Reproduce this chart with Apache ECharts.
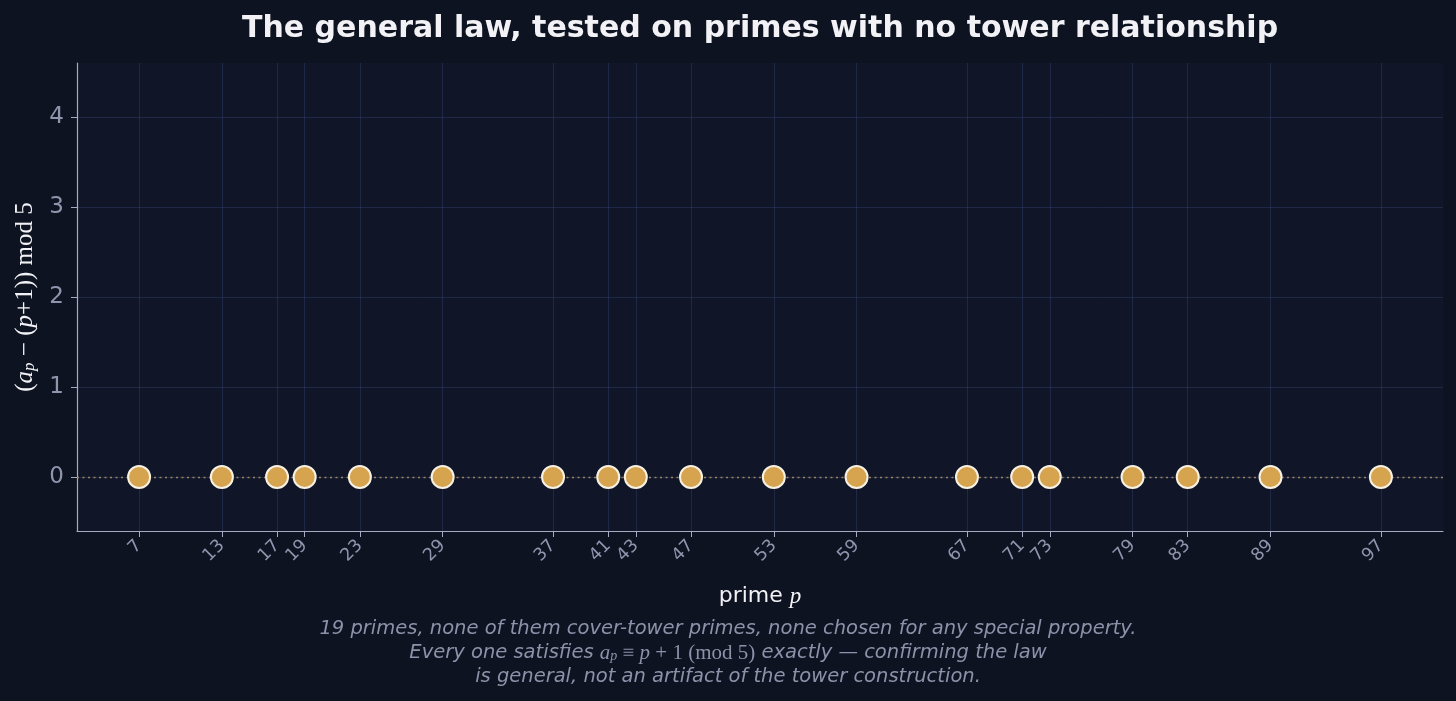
<!DOCTYPE html>
<html>
<head>
<meta charset="utf-8">
<script src="https://cdn.jsdelivr.net/npm/echarts@6/dist/echarts.min.js"></script>
<style>
  html, body { margin: 0; padding: 0; background: #0e1321; }
  #chart { width: 1456px; height: 701px; }
</style>
</head>
<body>
<div id="chart"></div>
<script>
// primes tested, and the residue (a_p - (p+1)) mod 5 for each
const primes = [7, 13, 17, 19, 23, 29, 37, 41, 43, 47, 53, 59, 67, 71, 73, 79, 83, 89, 97];
const residues = [0, 0, 0, 0, 0, 0, 0, 0, 0, 0, 0, 0, 0, 0, 0, 0, 0, 0, 0];
const yTicks = [0, 1, 2, 3, 4];

const chart = echarts.init(document.getElementById('chart'));

const points = primes.map((p, i) => [p, residues[i]]);
const mathFont = '"Liberation Serif", "DejaVu Serif", serif';

const option = {
    backgroundColor: '#0e1321',
    title: {
        text: 'The general law, tested on primes with no tower relationship',
        left: 237,
        top: 9,
        textStyle: {
            color: '#f2f2f6',
            fontFamily: '"DejaVu Sans"',
            fontWeight: 'bold',
            fontSize: 30
        }
    },
    grid: {
        left: 77,
        right: 13,
        top: 63,
        bottom: 170,
        containLabel: false,
        outerBoundsMode: 'none',
        show: true,
        backgroundColor: '#101627',
        borderWidth: 0
    },
    xAxis: {
        type: 'value',
        min: 2.5,
        max: 101.5,
        name: '{n|prime }{it|p}',
        nameLocation: 'middle',
        nameGap: 54,
        nameTextStyle: {
            rich: {
                n: { color: '#f2f2f6', fontSize: 22, fontFamily: '"DejaVu Sans"' },
                it: { color: '#f2f2f6', fontSize: 23, fontStyle: 'italic', fontFamily: mathFont }
            }
        },
        axisLine: { show: true, onZero: false, lineStyle: { color: '#a7abc2', width: 1.2 } },
        axisTick: { show: true, customValues: primes, length: 6, lineStyle: { color: '#a7abc2' } },
        axisLabel: {
            customValues: primes,
            rotate: 45,
            color: '#8f95ad',
            fontSize: 17.5,
            fontFamily: '"DejaVu Sans"',
            margin: 12
        },
        splitLine: { show: true, lineStyle: { color: 'rgba(70, 82, 150, 0.3)', width: 1 } }
    },
    yAxis: {
        type: 'value',
        min: -0.6,
        max: 4.6,
        name: '{n|(}{it|a}{sub|p}{n| − (}{it|p}{n|+1)) mod 5}',
        nameLocation: 'middle',
        nameRotate: 90,
        nameGap: 38,
        nameTextStyle: {
            rich: {
                n: { color: '#f2f2f6', fontSize: 25, fontFamily: mathFont },
                it: { color: '#f2f2f6', fontSize: 25, fontStyle: 'italic', fontFamily: mathFont },
                sub: { color: '#f2f2f6', fontSize: 17, fontStyle: 'italic', fontFamily: mathFont, padding: [9, 0, 0, 0] }
            }
        },
        axisLine: { show: true, onZero: false, lineStyle: { color: '#a7abc2', width: 1.2 } },
        axisTick: { show: true, customValues: yTicks, length: 6, lineStyle: { color: '#a7abc2' } },
        axisLabel: {
            customValues: yTicks,
            color: '#8f95ad',
            fontSize: 23,
            fontFamily: '"DejaVu Sans"',
            margin: 13
        },
        splitLine: { show: true, lineStyle: { color: 'rgba(70, 82, 150, 0.3)', width: 1 } }
    },
    series: [
        {
            type: 'scatter',
            data: points,
            symbolSize: 22,
            itemStyle: {
                color: '#d6a34e',
                borderColor: '#f7f1e3',
                borderWidth: 2,
                opacity: 1
            },
            z: 5,
            markLine: {
                silent: true,
                symbol: 'none',
                label: { show: false },
                lineStyle: { color: '#9a8560', type: [2, 3.5], width: 1.4, opacity: 1 },
                data: [{ yAxis: 0 }],
                z: 1
            }
        }
    ],
    graphic: [
        {
            type: 'text',
            left: 'center',
            top: 617,
            style: {
                text: '{t|19 primes, none of them cover-tower primes, none chosen for any special property.}\n' +
                      '{t|Every one satisfies }{m|a}{ms|p}{mn| ≡ }{m|p}{mn| + 1 (mod 5)}{t| exactly — confirming the law}\n' +
                      '{t|is general, not an artifact of the tower construction.}',
                align: 'center',
                lineHeight: 24,
                rich: {
                    t: { fill: '#8c92a9', fontSize: 19.5, fontStyle: 'italic', fontFamily: '"DejaVu Sans"', lineHeight: 24, align: 'center' },
                    m: { fill: '#8c92a9', fontSize: 21, fontStyle: 'italic', fontFamily: mathFont, lineHeight: 24 },
                    ms: { fill: '#8c92a9', fontSize: 14, fontStyle: 'italic', fontFamily: mathFont, lineHeight: 24, padding: [6, 0, 0, 0] },
                    mn: { fill: '#8c92a9', fontSize: 21, fontFamily: mathFont, lineHeight: 24 }
                }
            }
        }
    ]
};

chart.setOption(option);
</script>
</body>
</html>
